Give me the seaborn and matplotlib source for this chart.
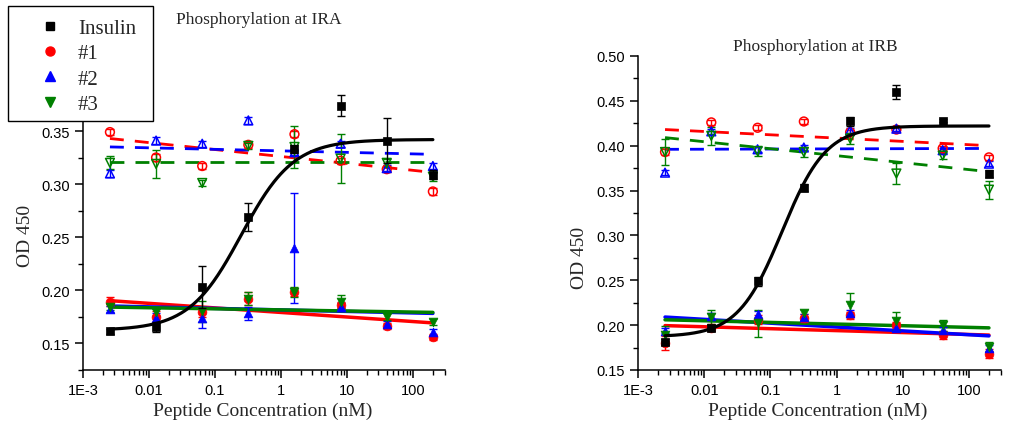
import numpy as np
import pandas as pd
import matplotlib
matplotlib.use("Agg")
import matplotlib.pyplot as plt
import seaborn as sns
from matplotlib.lines import Line2D
from matplotlib.patches import Rectangle
from matplotlib.ticker import LogLocator, MultipleLocator, FuncFormatter, NullFormatter

# ---------------- data ----------------
conc = [0.00256, 0.0128, 0.064, 0.32, 1.6, 8, 40, 200]

# IRA panel
ins_a = [0.161, 0.165, 0.203, 0.269, 0.333, 0.374, 0.341, 0.309]
ins_a_err = [0.002, 0.005, 0.020, 0.013, 0.004, 0.010, 0.021, 0.004]
c1_low_a = [0.189, 0.175, 0.179, 0.192, 0.198, 0.186, 0.166, 0.156]
c1_low_a_err = [0.004, 0.005, 0.004, 0.006, 0.004, 0.003, 0.003, 0.003]
c2_low_a = [0.182, 0.174, 0.174, 0.178, 0.240, 0.184, 0.168, 0.160]
c2_low_a_err = [0.003, 0.004, 0.010, 0.006, 0.052, 0.004, 0.003, 0.003]
c3_low_a = [0.184, 0.179, 0.180, 0.192, 0.198, 0.189, 0.175, 0.170]
c3_low_a_err = [0.003, 0.003, 0.010, 0.006, 0.005, 0.006, 0.003, 0.003]
c1_high_a = [0.349, 0.325, 0.317, 0.337, 0.347, 0.322, 0.314, 0.293]
c1_high_a_err = [0.003, 0.003, 0.003, 0.003, 0.003, 0.003, 0.003, 0.003]
c2_high_a = [0.310, 0.341, 0.338, 0.360, 0.330, 0.338, 0.315, 0.317]
c2_high_a_err = [0.003, 0.003, 0.003, 0.003, 0.003, 0.003, 0.003, 0.003]
c3_high_a = [0.320, 0.319, 0.301, 0.336, 0.335, 0.324, 0.320, 0.307]
c3_high_a_err = [0.006, 0.013, 0.003, 0.003, 0.020, 0.023, 0.004, 0.004]

# IRB panel
ins_b = [0.181, 0.197, 0.249, 0.353, 0.427, 0.460, 0.428, 0.369]
ins_b_err = [0.003, 0.003, 0.005, 0.004, 0.005, 0.008, 0.002, 0.004]
c1_low_b = [0.180, 0.197, 0.206, 0.208, 0.211, 0.200, 0.189, 0.168]
c1_low_b_err = [0.008, 0.004, 0.005, 0.004, 0.004, 0.003, 0.004, 0.005]
c2_low_b = [0.194, 0.210, 0.212, 0.209, 0.213, 0.197, 0.195, 0.174]
c2_low_b_err = [0.003, 0.003, 0.004, 0.003, 0.004, 0.003, 0.003, 0.004]
c3_low_b = [0.189, 0.209, 0.202, 0.213, 0.223, 0.205, 0.200, 0.176]
c3_low_b_err = [0.010, 0.008, 0.015, 0.004, 0.013, 0.010, 0.006, 0.005]
c1_high_b = [0.393, 0.426, 0.420, 0.427, 0.415, 0.418, 0.397, 0.387]
c1_high_b_err = [0.003, 0.003, 0.003, 0.003, 0.003, 0.003, 0.003, 0.003]
c2_high_b = [0.370, 0.416, 0.396, 0.398, 0.417, 0.419, 0.395, 0.380]
c2_high_b_err = [0.003, 0.003, 0.003, 0.003, 0.003, 0.003, 0.003, 0.003]
c3_high_b = [0.393, 0.411, 0.394, 0.393, 0.408, 0.369, 0.389, 0.351]
c3_high_b_err = [0.015, 0.010, 0.006, 0.006, 0.006, 0.012, 0.004, 0.010]

# fit parameters: insulin 4PL (bottom, top, EC50, hill); linear fits y = a + b*log10(x)
ins_fit_a = (0.162, 0.342, 0.25, 1.1)
ins_fit_b = (0.187, 0.422, 0.15, 1.3)
lin_fit_a = {"c1_low": (0.1789, -0.00429), "c2_low": (0.1813, -0.00143), "c3_low": (0.1813, -0.00102),
             "c1_high": (0.3260, -0.00654), "c2_high": (0.3313, -0.00143), "c3_high": (0.3210, 0.0)}
lin_fit_b = {"c1_low": (0.1939, -0.00215), "c2_low": (0.1979, -0.00429), "c3_low": (0.2012, -0.00184),
             "c1_high": (0.4085, -0.00368), "c2_high": (0.3965, 0.0002), "c3_high": (0.3889, -0.00777)}

legend_labels = ["Insulin", "#1", "#2", "#3"]
titles = ["Phosphorylation at IRA", "Phosphorylation at IRB"]

# ---------------- style ----------------
sns.set_style("ticks")
plt.rcParams["font.family"] = ["Liberation Sans", "DejaVu Sans"]
SERIF = ["Liberation Serif", "DejaVu Serif"]

RED, BLUE, GREEN = "#ff0000", "#0000ff", "#008000"
W, H = 1010, 431
fig = plt.figure(figsize=(W / 100, H / 100), dpi=100)

ax_a = fig.add_axes([83 / W, 1 - 370.6 / H, 361.5 / W, (370.6 - 36.6) / H])
ax_b = fig.add_axes([638 / W, 1 - 371 / H, 362.6 / W, 314 / H])

xfit = np.logspace(np.log10(conc[0]), np.log10(conc[-1]), 300)


def fourpl(x, p):
    bot, top, ec, h = p
    return bot + (top - bot) / (1 + (ec / x) ** h)


def draw_panel(ax, ins, ins_err, lows, highs, ins_fit, lin_fit):
    colors = [RED, BLUE, GREEN]
    mk = ["o", "^", "v"]
    keys = ["c1", "c2", "c3"]
    for k, c in zip(keys, colors):
        a, b = lin_fit[k + "_high"]
        df = pd.DataFrame({"x": xfit, "y": a + b * np.log10(xfit)})
        sns.lineplot(data=df, x="x", y="y", ax=ax, color=c, lw=2.0, zorder=2)
        ax.lines[-1].set_dashes([5, 4])
    for k, c in zip(keys, colors):
        a, b = lin_fit[k + "_low"]
        df = pd.DataFrame({"x": xfit, "y": a + b * np.log10(xfit)})
        sns.lineplot(data=df, x="x", y="y", ax=ax, color=c, lw=2.5, zorder=2)
    for (vals, errs), c, m in zip(highs, colors, mk):
        ax.errorbar(conc, vals, yerr=errs, fmt="none", ecolor=c, elinewidth=1, capsize=3, zorder=3)
        df = pd.DataFrame({"x": conc, "y": vals})
        sns.scatterplot(data=df, x="x", y="y", ax=ax, marker=m, s=40, facecolors="none",
                        edgecolor=c, linewidth=1.1, zorder=4)
    for (vals, errs), c, m in zip(lows, colors, mk):
        ax.errorbar(conc, vals, yerr=errs, fmt="none", ecolor=c, elinewidth=1, capsize=3, zorder=3)
        df = pd.DataFrame({"x": conc, "y": vals})
        sns.scatterplot(data=df, x="x", y="y", ax=ax, marker=m, s=40, color=c,
                        edgecolor=c, linewidth=0.5, zorder=4)
    ax.errorbar(conc, ins, yerr=ins_err, fmt="none", ecolor="black", elinewidth=1, capsize=3, zorder=5)
    df = pd.DataFrame({"x": conc, "y": ins})
    sns.scatterplot(data=df, x="x", y="y", ax=ax, marker="s", s=38, color="black",
                    edgecolor="black", linewidth=0.5, zorder=6)
    df = pd.DataFrame({"x": xfit, "y": fourpl(xfit, ins_fit)})
    sns.lineplot(data=df, x="x", y="y", ax=ax, color="black", lw=2.3, zorder=5)

    ax.set_xscale("log")
    ax.set_xlim(1e-3, 300)
    ax.xaxis.set_major_locator(LogLocator(base=10, numticks=10))
    ax.xaxis.set_minor_locator(LogLocator(base=10, subs=np.arange(2, 10), numticks=20))
    ax.xaxis.set_minor_formatter(NullFormatter())
    ax.xaxis.set_major_formatter(FuncFormatter(
        lambda v, p: "1E-3" if abs(v - 1e-3) < 1e-9 else ("%g" % v)))
    ax.yaxis.set_major_locator(MultipleLocator(0.05))
    ax.yaxis.set_minor_locator(MultipleLocator(0.025))
    ax.yaxis.set_major_formatter(FuncFormatter(lambda v, p: "%.2f" % v))
    for s in ["top", "right"]:
        ax.spines[s].set_visible(False)
    for s in ["left", "bottom"]:
        ax.spines[s].set_linewidth(1.1)
        ax.spines[s].set_color("black")
    ax.tick_params(which="major", direction="out", length=6, width=1.1, labelsize=10.5, colors="black")
    ax.tick_params(which="minor", direction="out", length=3.5, width=1.0, colors="black")
    ax.set_xlabel("")
    ax.set_ylabel("")
    ax.grid(False)
    ax.set_facecolor("none")


draw_panel(ax_a, ins_a, ins_a_err,
           [(c1_low_a, c1_low_a_err), (c2_low_a, c2_low_a_err), (c3_low_a, c3_low_a_err)],
           [(c1_high_a, c1_high_a_err), (c2_high_a, c2_high_a_err), (c3_high_a, c3_high_a_err)],
           ins_fit_a, lin_fit_a)
ax_a.set_ylim(0.125, 0.44)

draw_panel(ax_b, ins_b, ins_b_err,
           [(c1_low_b, c1_low_b_err), (c2_low_b, c2_low_b_err), (c3_low_b, c3_low_b_err)],
           [(c1_high_b, c1_high_b_err), (c2_high_b, c2_high_b_err), (c3_high_b, c3_high_b_err)],
           ins_fit_b, lin_fit_b)
ax_b.set_ylim(0.15, 0.50)

# titles and axis labels
fig.text(259 / W, 1 - 20 / H, titles[0], ha="center", va="center", fontsize=12.5, family=SERIF)
fig.text(815 / W, 1 - 47 / H, titles[1], ha="center", va="center", fontsize=12.5, family=SERIF)
fig.text(263 / W, 1 - 411 / H, "Peptide Concentration (nM)", ha="center", va="center",
         fontsize=14, family=SERIF)
fig.text(818 / W, 1 - 411 / H, "Peptide Concentration (nM)", ha="center", va="center",
         fontsize=14, family=SERIF)
fig.text(25 / W, 1 - 236 / H, "OD 450", rotation=90, ha="center", va="center",
         fontsize=14, family=SERIF)
fig.text(580 / W, 1 - 258 / H, "OD 450", rotation=90, ha="center", va="center",
         fontsize=14, family=SERIF)

# legend box (drawn explicitly) and legend entries
box = Rectangle((8 / W, 1 - 122 / H), 145 / W, 115 / H, transform=fig.transFigure,
                facecolor="white", edgecolor="black", linewidth=1.0, zorder=9)
fig.patches.append(box)

handles = [
    Line2D([], [], ls="none", marker="s", color="black", markersize=6),
    Line2D([], [], ls="none", marker="o", color=RED, markersize=6.5),
    Line2D([], [], ls="none", marker="^", color=BLUE, markersize=7),
    Line2D([], [], ls="none", marker="v", color=GREEN, markersize=7),
]
leg = fig.legend(handles, legend_labels, loc="upper left",
                 bbox_to_anchor=(8 / W, 1 - 12 / H), frameon=False,
                 borderpad=0.35, labelspacing=0.28,
                 handletextpad=-0.3, borderaxespad=0, handlelength=3.3,
                 prop={"family": SERIF, "size": 15})
leg.set_zorder(10)

fig.savefig("out.png", dpi=100)
